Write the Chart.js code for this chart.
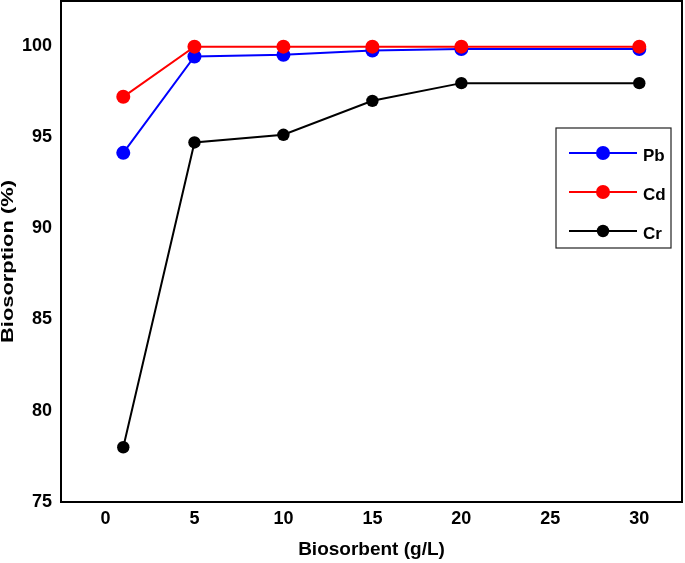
<!DOCTYPE html>
<html><head><meta charset="utf-8">
<script src="https://cdn.jsdelivr.net/npm/chart.js@4"></script>
<style>html,body{margin:0;padding:0;background:#fff}#wrap{width:685px;height:563px}</style>
</head><body><div id="wrap"><canvas id="c" width="685" height="563"></canvas></div>
<script>
const dose = [1, 5, 10, 15, 20, 30];
const pbValues = [94.13, 99.41, 99.5, 99.74, 99.82, 99.82];
const cdValues = [97.2, 99.95, 99.95, 99.95, 99.95, 99.95];
const crValues = [78.0, 94.7, 95.12, 96.98, 97.95, 97.95];
const seriesNames = ['Pb', 'Cd', 'Cr'];
const xTicks = [0, 5, 10, 15, 20, 25, 30];
const yTicks = [75, 80, 85, 90, 95, 100];
const xTitle = 'Biosorbent (g/L)';
const yTitle = 'Biosorption (%)';

const pts = vals => dose.map((d, i) => ({x: d, y: vals[i]}));
const colors = ['#0000ff', '#ff0000', '#000000'];
const mkDs = (label, vals, color, order, r) => ({
  label, data: pts(vals), borderColor: color, backgroundColor: color,
  pointBackgroundColor: color, pointBorderColor: color, pointRadius: r,
  pointBorderWidth: 0, pointHoverRadius: r, borderWidth: 2, tension: 0, order
});

const boxPlugin = {
  id: 'box',
  afterDatasetsDraw(chart) {
    const {ctx, chartArea: a} = chart;
    ctx.save();
    ctx.strokeStyle = '#000';
    ctx.lineWidth = 2;
    ctx.strokeRect(a.left, a.top, a.right - a.left, a.bottom - a.top);
    ctx.restore();
  }
};

const yTitlePlugin = {
  id: 'yTitle',
  afterDraw(chart) {
    const {ctx, chartArea: a} = chart;
    ctx.save();
    ctx.font = 'bold 17px "Liberation Sans", Arial, sans-serif';
    const w = ctx.measureText(yTitle).width;
    ctx.translate(8, (a.top + a.bottom) / 2 + 10);
    ctx.rotate(-Math.PI / 2);
    ctx.scale(163 / w, 1);
    ctx.fillStyle = '#000';
    ctx.textAlign = 'center';
    ctx.textBaseline = 'middle';
    ctx.fillText(yTitle, 0, 0);
    ctx.restore();
  }
};

const legendPlugin = {
  id: 'boxLegend',
  afterDraw(chart) {
    const {ctx, chartArea: a} = chart;
    const right = a.right - 11, top = a.top + 127, w = 115, h = 120;
    const left = right - w;
    ctx.save();
    ctx.strokeStyle = '#222';
    ctx.lineWidth = 1.2;
    ctx.fillStyle = '#fff';
    ctx.fillRect(left, top, w, h);
    ctx.strokeRect(left, top, w, h);
    [0, 1, 2].forEach((di, k) => {
      const ds = chart.data.datasets[di];
      const y = top + 25 + k * 39;
      ctx.strokeStyle = ds.borderColor;
      ctx.lineWidth = 2;
      ctx.beginPath();
      ctx.moveTo(left + 13, y);
      ctx.lineTo(left + 81, y);
      ctx.stroke();
      ctx.fillStyle = ds.borderColor;
      ctx.beginPath();
      ctx.arc(left + 47, y, ds.pointRadius, 0, Math.PI * 2);
      ctx.fill();
      ctx.fillStyle = '#000';
      ctx.font = 'bold 17px "Liberation Sans", Arial, sans-serif';
      ctx.textBaseline = 'middle';
      ctx.textAlign = 'left';
      ctx.fillText(ds.label, left + 87, y + 3);
    });
    ctx.restore();
  }
};

const font18 = {family: '"Liberation Sans", Arial, sans-serif', size: 18, weight: 'bold'};
const font19 = {family: '"Liberation Sans", Arial, sans-serif', size: 19, weight: 'bold'};
const noPad = s => { s.paddingTop = 0; s.paddingBottom = 0; s.paddingLeft = 0; s.paddingRight = 0; };

new Chart(document.getElementById('c'), {
  type: 'line',
  data: {
    datasets: [
      mkDs(seriesNames[0], pbValues, colors[0], 1, 7),
      mkDs(seriesNames[1], cdValues, colors[1], 0, 7),
      mkDs(seriesNames[2], crValues, colors[2], 2, 6.2)
    ]
  },
  options: {
    responsive: false,
    animation: false,
    devicePixelRatio: 1,
    layout: {autoPadding: false, padding: {top: 1, right: 3, left: 0, bottom: 0}},
    plugins: {legend: {display: false}, tooltip: {enabled: false}},
    scales: {
      x: {
        type: 'linear', min: -2.5, max: 32.4,
        grid: {display: false, drawTicks: false},
        border: {display: false},
        ticks: {color: '#000', font: font18, padding: 6, maxRotation: 0},
        afterBuildTicks: s => { s.ticks = xTicks.map(v => ({value: v})); },
        afterFit: s => { s.height = 61; noPad(s); },
        title: {display: true, text: xTitle, color: '#000', font: font19, padding: {top: 0, bottom: 1.5}}
      },
      y: {
        type: 'linear', min: 75, max: 102.45,
        grid: {display: false, drawTicks: false},
        border: {display: false},
        ticks: {color: '#000', font: font18, padding: 9},
        afterBuildTicks: s => { s.ticks = yTicks.map(v => ({value: v})); },
        afterFit: s => { s.width = 61; noPad(s); },
        title: {display: false}
      }
    }
  },
  plugins: [boxPlugin, legendPlugin, yTitlePlugin]
});
</script>
</body></html>
